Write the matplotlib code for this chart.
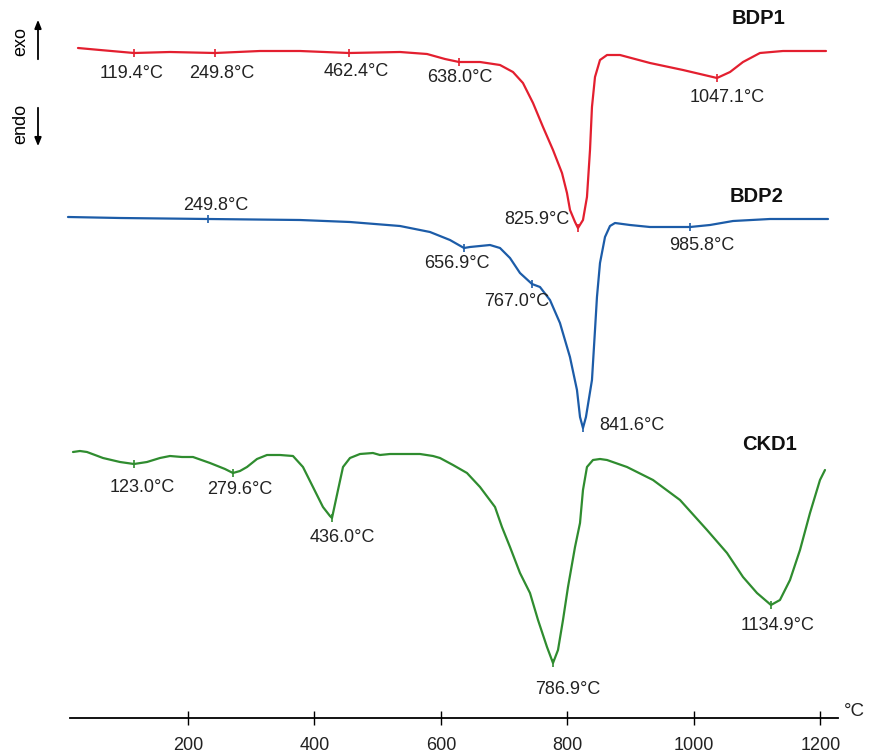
import numpy as np
import matplotlib
matplotlib.use("Agg")
import matplotlib.pyplot as plt

plt.rcParams["font.family"] = ["Liberation Sans", "DejaVu Sans"]

# ---------------------------------------------------------------------------
# Data: temperature (degC) and DTA signal (arbitrary units,
# already offset per sample so the three curves stack)
# ---------------------------------------------------------------------------
bdp1_t = [26.1, 60.9, 114.6, 171.5, 242.7, 313.8, 377.1, 454.5, 535.2, 577.9,
          606.3, 628.5, 645.8, 661.7, 693.3, 713.8, 729.6, 745.5, 761.3, 777.1,
          791.3, 799.2, 804.0, 811.9, 816.6, 824.5, 830.8, 835.6, 838.7, 843.5,
          851.4, 862.5, 883.0, 930.4, 982.6, 1036.4, 1057.0, 1077.5, 1104.3, 1140.7,
          1208.7]
bdp1_s = [670, 668, 665, 666, 665, 667, 667, 665, 666, 664,
          659, 656, 656, 656, 653, 646, 635, 615, 591, 568,
          545, 525, 508, 496, 490, 498, 521, 568, 611, 641,
          658, 663, 663, 655, 648, 640, 646, 656, 665, 667,
          667]

bdp2_t = [10.3, 92.8, 231.6, 377.1, 456.1, 535.2, 582.6, 614.2, 636.4, 645.8,
          661.7, 677.5, 693.3, 709.1, 724.9, 743.9, 756.5, 772.3, 788.1, 803.9,
          815.0, 819.8, 824.5, 829.2, 838.7, 843.5, 846.6, 851.4, 859.3, 867.2,
          875.1, 898.8, 930.4, 993.7, 1025.3, 1061.7, 1120.1, 1211.9]
bdp2_s = [501, 500, 499, 498, 496, 492, 486, 478, 470, 471,
          472, 473, 470, 460, 445, 434, 431, 418, 395, 361,
          328, 301, 290, 301, 338, 388, 421, 455, 481, 492,
          495, 493, 491, 491, 493, 497, 499, 499]

ckd1_t = [18.2, 29.2, 40.3, 53.0, 65.6, 92.5, 114.6, 135.2, 155.7, 171.5,
          190.5, 207.9, 234.8, 258.5, 271.1, 282.2, 293.3, 309.1, 324.9, 345.5,
          366.0, 381.8, 397.6, 413.4, 424.5, 427.7, 437.2, 445.1, 456.1, 471.9,
          492.4, 503.5, 519.4, 566.8, 587.4, 598.4, 619.0, 641.1, 661.7, 685.4,
          696.4, 709.1, 724.9, 740.7, 753.4, 767.6, 777.1, 785.0, 792.9, 800.8,
          811.9, 819.8, 824.5, 830.8, 840.3, 851.4, 862.5, 894.1, 935.2, 977.9,
          1020.6, 1052.2, 1077.5, 1099.6, 1121.7, 1135.9, 1151.8, 1167.6, 1183.4, 1199.2,
          1207.1]
ckd1_s = [266, 267, 266, 263, 260, 256, 254, 256, 260, 262,
          261, 261, 255, 249, 245, 247, 251, 259, 263, 263,
          262, 251, 231, 211, 202, 200, 228, 251, 260, 264,
          265, 263, 264, 264, 262, 260, 253, 245, 231, 211,
          191, 171, 145, 125, 98, 71, 55, 68, 98, 131,
          171, 195, 228, 251, 258, 259, 258, 251, 238, 218,
          188, 165, 141, 125, 113, 118, 138, 168, 205, 238,
          248]

# labelled events: tick temperature and printed label
bdp1_peak_t = [114.6, 242.7, 454.5, 628.5, 816.6, 1036.4]
bdp1_labels = ["119.4°C", "249.8°C", "462.4°C", "638.0°C", "825.9°C", "1047.1°C"]
bdp2_peak_t = [231.6, 636.4, 743.9, 824.5, 993.7]
bdp2_labels = ["249.8°C", "656.9°C", "767.0°C", "841.6°C", "985.8°C"]
ckd1_peak_t = [114.6, 271.1, 427.7, 777.1, 1121.7]
ckd1_labels = ["123.0°C", "279.6°C", "436.0°C", "786.9°C", "1134.9°C"]

x_ticks = [200, 400, 600, 800, 1000, 1200]

# label offsets (pixels, from the tick on the curve)
bdp1_offsets = [(-2, -20), (7, -20), (7, -19), (1, -16), (-41, 9), (10, -19)]
bdp2_offsets = [(8, 14), (-7, -15), (-15, -17), (49, 3), (12, -19)]
ckd1_offsets = [(8, -23), (7, -16), (10, -19), (15, -26), (7, -20)]

series = [
    ("BDP1", bdp1_t, bdp1_s, bdp1_peak_t, bdp1_labels, bdp1_offsets, "#e31f2f", (1102, 700)),
    ("BDP2", bdp2_t, bdp2_s, bdp2_peak_t, bdp2_labels, bdp2_offsets, "#1c5ca8", (1099, 521)),
    ("CKD1", ckd1_t, ckd1_s, ckd1_peak_t, ckd1_labels, ckd1_offsets, "#2f8c2f", (1120, 273)),
]

fig = plt.figure(figsize=(8.74, 7.55), dpi=100)
ax = fig.add_axes([0, 37 / 755, 1, 718 / 755])
ax.set_xlim(-97.2, 1284.6)
ax.set_ylim(0, 718)

for name, t, s, pt, labels, offs, color, name_pos in series:
    ax.plot(t, s, color=color, linewidth=1.6, solid_joinstyle="round",
            solid_capstyle="round")
    ps = np.interp(pt, t, s)
    ax.plot(pt, ps, linestyle="none", marker="|", markersize=6,
            markeredgewidth=1.2, color=color)
    for x, y, lab, (dx, dy) in zip(pt, ps, labels, offs):
        ax.annotate(lab, (x, y), xytext=(dx, dy), textcoords="offset pixels",
                    ha="center", va="center", fontsize=13, color="#222222")
    ax.text(name_pos[0], name_pos[1], name, ha="center", va="center",
            fontsize=14.5, fontweight="bold", color="#111111")

# bottom temperature axis only
for side in ["left", "right", "top"]:
    ax.spines[side].set_visible(False)
ax.spines["bottom"].set_bounds(13, 1228)
ax.spines["bottom"].set_linewidth(1.3)
ax.yaxis.set_visible(False)
ax.set_xticks(x_ticks)
ax.set_xticklabels([str(v) for v in x_ticks], fontsize=13, color="#222222")
ax.tick_params(axis="x", direction="inout", length=10, width=1.0, pad=9)
ax.text(1253, 7, "°C", ha="center", va="center", fontsize=13.5, color="#222222")

# exo / endo indicator
fig.text(21 / 874, 1 - 41 / 755, "exo", rotation=90, ha="center", va="center", fontsize=13)
fig.text(21 / 874, 1 - 124 / 755, "endo", rotation=90, ha="center", va="center", fontsize=13)
arrow = dict(arrowstyle="-|>,head_length=0.5,head_width=0.2", color="black", lw=1.3)
fig.add_artist(plt.Annotation("", xy=(38 / 874, 1 - 17 / 755), xycoords="figure fraction",
                              xytext=(38 / 874, 1 - 62 / 755), textcoords="figure fraction",
                              arrowprops=arrow))
fig.add_artist(plt.Annotation("", xy=(38 / 874, 1 - 149 / 755), xycoords="figure fraction",
                              xytext=(38 / 874, 1 - 105 / 755), textcoords="figure fraction",
                              arrowprops=arrow))

fig.savefig("out.png", dpi=100)
